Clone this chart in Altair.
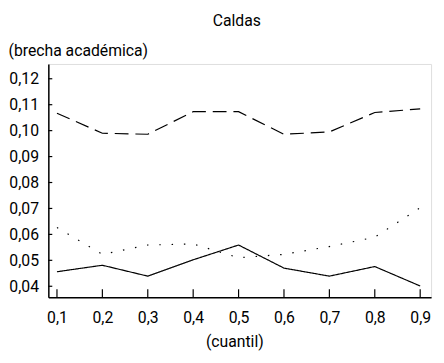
import altair as alt
import pandas as pd

quantiles = [0.1, 0.2, 0.3, 0.4, 0.5, 0.6, 0.7, 0.8, 0.9]
solid_vals = [0.0456, 0.0481, 0.0439, 0.0502, 0.0559, 0.0470, 0.0439, 0.0476, 0.0401]
dashed_vals = [0.1067, 0.0990, 0.0986, 0.1073, 0.1073, 0.0986, 0.0995, 0.1070, 0.1084]
dotted_vals = [0.0627, 0.0523, 0.0559, 0.0563, 0.0510, 0.0523, 0.0553, 0.0589, 0.0703]
series_names = ["a", "b", "c"]
y_ticks = [0.04, 0.05, 0.06, 0.07, 0.08, 0.09, 0.10, 0.11, 0.12]

rows = []
for name, vals in zip(series_names, [solid_vals, dashed_vals, dotted_vals]):
    for q, v in zip(quantiles, vals):
        rows.append({"q": q, "v": v, "serie": name})
df = pd.DataFrame(rows)
xt = pd.DataFrame({"q": quantiles})
yt = pd.DataFrame({"v": y_ticks})

FONT = "Roboto"
FS = 16
xscale = alt.Scale(domain=[0.081, 0.924], nice=False, zero=False)
yscale = alt.Scale(domain=[0.0358, 0.1257], nice=False, zero=False)

xaxis = alt.Axis(
    values=quantiles, ticks=False, tickSize=0, grid=False,
    labelOverlap=False, labelFlush=False,
    labelExpr="replace(format(datum.value, '.1f'), '.', ',')",
    labelFont=FONT, labelFontSize=FS, labelColor="black", labelPadding=13,
    domainColor="black", domainWidth=1.5,
    title="(cuantil)", titleFont=FONT, titleFontSize=FS, titleFontWeight="normal",
    titleColor="black", titleX=189, titleY=50, titleBaseline="alphabetic",
    titleAlign="center")
yaxis = alt.Axis(
    values=y_ticks, ticks=False, tickSize=0, grid=False,
    labelOverlap=False, labelFlush=False, tickCount=9,
    labelExpr="replace(format(datum.value, '.2f'), '.', ',')",
    labelFont=FONT, labelFontSize=FS, labelColor="black", labelPadding=10,
    domainColor="black", domainWidth=1.5,
    title="(brecha académica)", titleFont=FONT, titleFontSize=FS,
    titleFontWeight="normal", titleColor="black", titleAngle=0,
    titleAlign="left", titleBaseline="alphabetic", titleX=-41, titleY=-9)

lines = alt.Chart(df).mark_line(color="black", strokeWidth=1.2).encode(
    x=alt.X("q:Q", scale=xscale, axis=xaxis),
    y=alt.Y("v:Q", scale=yscale, axis=yaxis),
    strokeDash=alt.StrokeDash("serie:N", scale=alt.Scale(
        domain=series_names, range=[[1, 0], [14, 7], [1.5, 11]]), legend=None),
    detail="serie:N",
)

xticks = alt.Chart(xt).mark_rule(color="black", strokeWidth=1.2).encode(
    x=alt.X("q:Q", scale=xscale, axis=xaxis), y=alt.value(237), y2=alt.value(229))
yticks = alt.Chart(yt).mark_rule(color="black", strokeWidth=1.2).encode(
    y=alt.Y("v:Q", scale=yscale, axis=yaxis), x=alt.value(0), x2=alt.value(4))

chart = alt.layer(lines, xticks, yticks).properties(
    width=389, height=237,
    title=alt.TitleParams("Caldas", font=FONT, fontSize=FS, fontWeight="normal",
                          color="black", anchor="middle", frame="group", dx=-3, dy=-10),
    padding={"left": 41, "top": 54, "right": 5, "bottom": 62},
    autosize=alt.AutoSizeParams(type="none"),
).configure_view(stroke=None).configure(background="white")

chart.save("out.html", embed_options={"renderer": "svg", "actions": False})
